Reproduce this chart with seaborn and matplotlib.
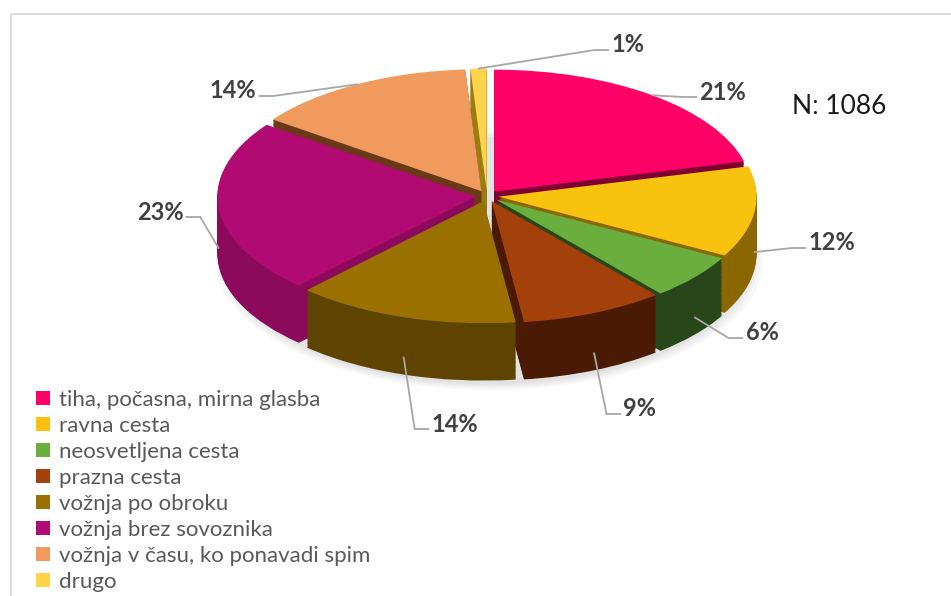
import matplotlib
matplotlib.use("Agg")
import matplotlib.pyplot as plt
from matplotlib.patches import Rectangle
import numpy as np
import seaborn as sns

sns.set_theme(style="white")
plt.rcParams["font.family"] = ["Lato", "DejaVu Sans"]

# ----------------------------------------------------------------------
# DATA
# ----------------------------------------------------------------------
categories = [
    "tiha, počasna, mirna glasba",
    "ravna cesta",
    "neosvetljena cesta",
    "prazna cesta",
    "vožnja po obroku",
    "vožnja brez sovoznika",
    "vožnja v času, ko ponavadi spim",
    "drugo",
]
shares = [21, 12, 6, 9, 14, 23, 14, 1]
n_total = 1086

# ----------------------------------------------------------------------
# STYLE / LAYOUT
# ----------------------------------------------------------------------
top_colors = ["#FF0066", "#F9C20E", "#6AAE3E", "#A4410A",
              "#9A7000", "#B10A72", "#F09A5E", "#FFD34A"]
side_colors = ["#7E0033", "#8A6700", "#27461A", "#4A1A04",
               "#5E4400", "#8C0A5C", "#6A3A18", "#9C7C10"]
# where Excel put the percentage labels (image pixels, text centre)
label_pos = [(723, 92), (832, 243), (762, 333), (640, 409),
             (455, 424), (160, 212), (233, 91), (628, 45)]

W, H = 951, 596
CX, CY = 487, 196      # pie centre in image px
RX, RY = 258, 122      # px per pie unit (flattened -> 3d look)
DEPTH = 0.47
EXPLODE = 0.045
TXT = "#404040"

fig = plt.figure(figsize=(W / 100, H / 100), dpi=100)
fig.patch.set_facecolor("white")
ax = fig.add_axes([0, 0, 1, 1])
explode = [EXPLODE] * len(shares)

# soft shadow under the pie
for k, a in enumerate([0.05, 0.05, 0.06, 0.07]):
    ax.pie(shares, colors=["#808080"] * len(shares), startangle=90, counterclock=False,
           radius=1.06 - 0.015 * k, center=(0.01, -DEPTH - 0.06),
           wedgeprops=dict(linewidth=0, alpha=a))

# side walls: stack of darker pies
for t in np.linspace(DEPTH, 0.01, 45):
    ax.pie(shares, colors=side_colors, startangle=90, counterclock=False,
           explode=explode, center=(0, -t), wedgeprops=dict(linewidth=0))

# top surface
wedges, _ = ax.pie(shares, colors=top_colors, startangle=90, counterclock=False,
                   explode=explode, center=(0, 0), wedgeprops=dict(linewidth=0))

ax.set_aspect("auto")
ax.set_xlim(-CX / RX, (W - CX) / RX)
ax.set_ylim(-(H - CY) / RY, CY / RY)
ax.axis("off")

# overlay in pixel coordinates for labels, leader lines, border
ov = fig.add_axes([0, 0, 1, 1], facecolor="none")
ov.set_xlim(0, W)
ov.set_ylim(H, 0)
ov.axis("off")
ov.add_patch(Rectangle((10.5, 13.5), 1000, 1000, fill=False, edgecolor="#d9d9d9", lw=1.3))

fr = np.array(shares) / sum(shares)
theta = np.deg2rad(90 - 360 * (np.cumsum(fr) - fr / 2))
r = 1 + EXPLODE
anc_x = CX + np.cos(theta) * r * RX
anc_y = CY - np.sin(theta) * r * RY
anc_y = anc_y + (np.sin(theta) < -0.05) * DEPTH * RY * 0.7

texts = []
for s, (tx, ty) in zip(shares, label_pos):
    texts.append(ov.text(tx, ty, f"{s}%", ha="center", va="center",
                         fontsize=17, fontweight="bold", color=TXT))

fig.canvas.draw()
inv = ov.transData.inverted()
for i, t in enumerate(texts):
    bb = t.get_window_extent()
    (x0, _), (x1, _) = inv.transform([(bb.x0, bb.y0), (bb.x1, bb.y1)])
    tx, ty = label_pos[i]
    ly = ty + 5
    if tx > anc_x[i]:
        end = x0 - 3
        elbow = end - 14
    else:
        end = x1 + 3
        elbow = end + 14
    ov.plot([anc_x[i], elbow, end], [anc_y[i], ly, ly], color="#a6a6a6", lw=1.3,
            solid_joinstyle="miter")

ov.text(839, 106, f"N: {n_total}", ha="center", va="center", fontsize=19, color="#1a1a1a")

leg = fig.legend(handles=wedges, labels=categories, loc="upper left",
                 bbox_to_anchor=(36 / W, 1 - 390 / H), frameon=False, fontsize=16,
                 handlelength=0.62, handleheight=0.62, handletextpad=0.4,
                 labelspacing=0.27, borderpad=0, borderaxespad=0)
for t in leg.get_texts():
    t.set_color("#595959")

fig.savefig("out.png", dpi=100)
